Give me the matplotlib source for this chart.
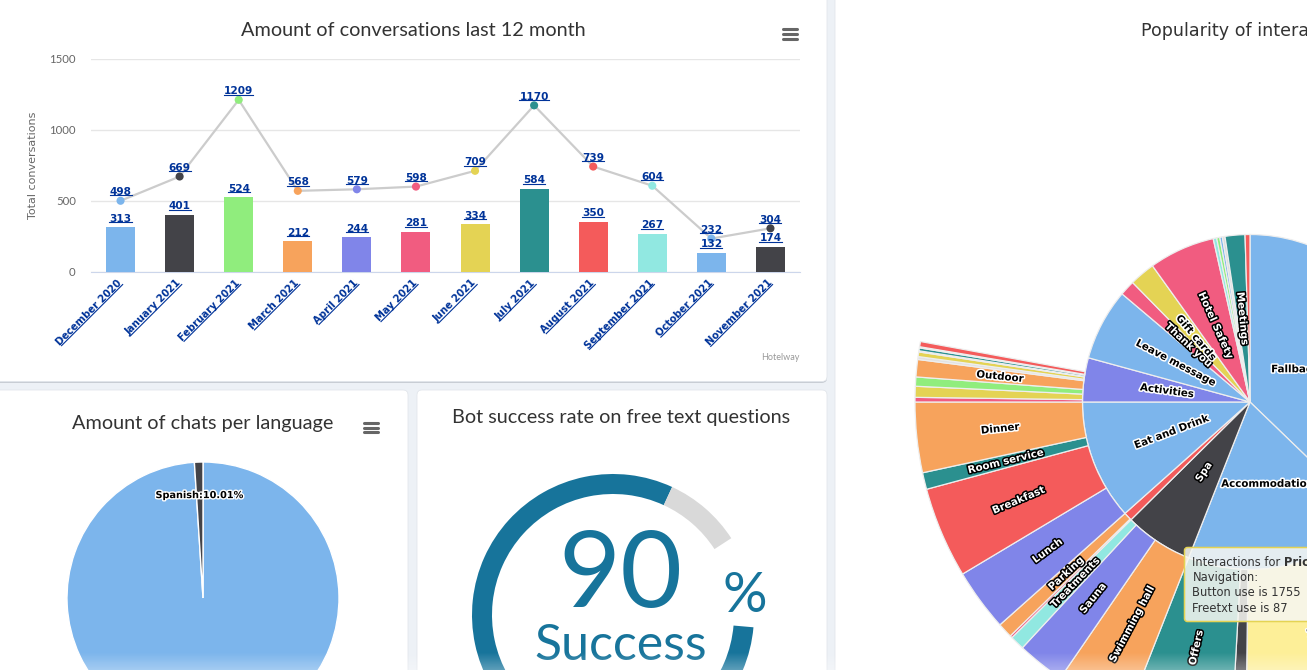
import matplotlib
matplotlib.use('Agg')
import matplotlib.pyplot as plt
import numpy as np
from matplotlib.patches import FancyBboxPatch
from matplotlib.lines import Line2D
from matplotlib.transforms import IdentityTransform
import matplotlib.patheffects as pe

W, H, DPI = 1307, 670, 100

# ---------------- data ----------------
months = ['December 2020', 'January 2021', 'February 2021', 'March 2021', 'April 2021',
          'May 2021', 'June 2021', 'July 2021', 'August 2021', 'September 2021',
          'October 2021', 'November 2021']
bar_values = [313, 401, 524, 212, 244, 281, 334, 584, 350, 267, 132, 174]
line_values = [498, 669, 1209, 568, 579, 598, 709, 1170, 739, 604, 232, 304]
y_ticks = [0, 500, 1000, 1500]
hc_colors = ['#7cb5ec', '#434348', '#90ed7d', '#f7a35c', '#8085e9',
             '#f15c80', '#e4d354', '#2b908f', '#f45b5b', '#91e8e1']

languages = ['English', 'Spanish']
language_share = [98.99, 1.01]
language_label = 'Spanish:10.01%'

success_rate = 90

inner_names = ['Fallback', 'Accommodation', 'Spa', '', 'Eat and Drink', 'Activities',
               'Leave message', 'Thank you', 'Gift cards', 'Hotel Safety', '', '', '', '',
               'Meetings', '']
inner_values = [8040, 4050, 1428, 180, 2502, 918, 1494, 318, 534, 1374, 72, 66, 54, 54, 414, 102]
inner_colors = ['#7cb5ec', '#7cb5ec', '#434348', '#f45b5b', '#7cb5ec', '#8085e9', '#7cb5ec',
                '#f15c80', '#e4d354', '#f15c80', '#91e8e1', '#90ed7d', '#7cb5ec', '#dcdcdc',
                '#2b908f', '#f45b5b']

prices_button, prices_freetext = 1755, 87
outer_parent = [1, 1, 1, 1, 2, 2, 2, 3, 3, 4, 4, 4, 4, 5, 5, 5, 5, 5, 5, 5, 5, 5, 5]
outer_names = ['', 'Prices', '', 'Offers', 'Swimming hall', 'Sauna', 'Treatments', '', 'Parking',
               'Lunch', 'Breakfast', 'Room service', 'Dinner', '', '', '', 'Outdoor', '', '', '',
               '', '', '']
outer_values = [960, prices_button + prices_freetext, 150, 1098, 780, 498, 150, 24, 156,
                648, 948, 174, 732, 48, 114, 96, 180, 30, 48, 12, 30, 12, 54]
outer_colors = ['#f15c80', '#fdef98', '#434348', '#2b908f', '#f7a35c', '#8085e9', '#91e8e1',
                '#f15c80', '#f7a35c', '#8085e9', '#f45b5b', '#2b908f', '#f7a35c', '#f15c80',
                '#e4d354', '#90ed7d', '#f7a35c', '#e2e2e2', '#e4d354', '#e2e2e2', '#2b908f',
                '#e2e2e2', '#f45b5b']
light_text = {'Spa', 'Hotel Safety', 'Thank you', 'Meetings', 'Room service', 'Breakfast',
              'Lunch', 'Parking', 'Treatments', 'Sauna', 'Swimming hall', 'Offers'}

# ---------------- helpers ----------------
BLUE_LINK = '#003399'
TITLE_FONT = 'Lato'


def px_rect(x0, y0, x1, y1):
    return [x0 / W, 1 - y1 / H, (x1 - x0) / W, (y1 - y0) / H]


fig = plt.figure(figsize=(W / DPI, H / DPI), dpi=DPI)
fig.patch.set_facecolor('#edf1f6')

bg = fig.add_axes([0, 0, 1, 1], zorder=0)
bg.set_xlim(0, W)
bg.set_ylim(H, 0)
bg.axis('off')


def card(x0, y0, x1, y1):
    bg.add_patch(FancyBboxPatch((x0, y0 + 1.2), x1 - x0, y1 - y0,
                                boxstyle='round,pad=0,rounding_size=5',
                                fc='#b9bec6', ec='none'))
    bg.add_patch(FancyBboxPatch((x0, y0), x1 - x0, y1 - y0,
                                boxstyle='round,pad=0,rounding_size=5',
                                fc='white', ec='#e3e7ec', lw=0.6))


card(-20, -20, 827, 381.5)
card(-20, 390, 408, 720)
card(417, 390, 827, 720)
card(835, -20, 1330, 720)


def hamburger(xc, yc):
    for dy in (-4.7, 0, 4.7):
        bg.plot([xc - 7, xc + 7], [yc + dy, yc + dy], color='#666666', lw=2.2,
                solid_capstyle='round')


hamburger(790, 34)
hamburger(371, 427.5)

bg.text(413, 31, 'Amount of conversations last 12 month', ha='center', va='center',
        fontsize=14.3, color='#333333', family=TITLE_FONT)
bg.text(203, 424, 'Amount of chats per language', ha='center', va='center',
        fontsize=14.3, color='#333333', family=TITLE_FONT)
bg.text(621, 417, 'Bot success rate on free text questions', ha='center', va='center',
        fontsize=14.3, color='#333333', family=TITLE_FONT)
bg.text(1141, 31, 'Popularity of interactions', ha='left', va='center',
        fontsize=12.6, color='#333333', family='DejaVu Sans')
bg.text(800, 358, 'Hotelway', ha='right', va='center', fontsize=6.5, color='#999999',
        family=TITLE_FONT)

underline_plain = []
underline_rot = []

# ---------------- column + line chart ----------------
ax1 = fig.add_axes(px_rect(91, 58.5, 800, 271.5), zorder=2)
ax1.patch.set_alpha(0)
x = np.arange(len(months))
month_colors = [hc_colors[i % len(hc_colors)] for i in range(len(months))]
ax1.bar(x, bar_values, width=0.49, color=month_colors, zorder=2)
ax1.plot(x, line_values, color='#cccccc', lw=1.6, zorder=3)
ax1.scatter(x, line_values, s=34, c=month_colors, zorder=4, linewidths=0)
ax1.set_xlim(-0.5, len(months) - 0.5)
ax1.set_ylim(0, 1500)
ax1.set_yticks(y_ticks)
ax1.yaxis.grid(True, color='#e6e6e6', lw=1)
ax1.set_axisbelow(True)
for s in ('top', 'right', 'left'):
    ax1.spines[s].set_visible(False)
ax1.spines['bottom'].set_color('#ccd6eb')
ax1.spines['bottom'].set_zorder(1)
ax1.tick_params(axis='y', length=0, pad=11, labelcolor='#666666', labelsize=8.2)
for lab in ax1.get_yticklabels():
    lab.set_family(TITLE_FONT)
ax1.set_xticks(x)
ax1.set_xticklabels(months, rotation=45, ha='right', va='center', rotation_mode='anchor',
                    color=BLUE_LINK, fontweight='bold', fontsize=7.2, family='DejaVu Sans')
ax1.tick_params(axis='x', length=0, pad=7)
ax1.set_ylabel('Total conversations', color='#666666', fontsize=8, family='DejaVu Sans')
ax1.yaxis.set_label_coords(-(91 - 38) / 709, 0.5)

for xi, v in zip(x, bar_values):
    t = ax1.annotate(str(v), (xi, v), xytext=(0, 2.4), textcoords='offset points',
                     ha='center', va='bottom', color=BLUE_LINK, fontsize=7.6,
                     fontweight='bold', zorder=6)
    underline_plain.append(t)
for xi, v in zip(x, line_values):
    t = ax1.annotate(str(v), (xi, v), xytext=(0, 2.6), textcoords='offset points',
                     ha='center', va='bottom', color=BLUE_LINK, fontsize=7.6,
                     fontweight='bold', zorder=6)
    underline_plain.append(t)
underline_rot.extend(ax1.get_xticklabels())

# ---------------- language pie ----------------
ax2 = fig.add_axes(px_rect(67, 462, 339, 734), zorder=2)
w2, _ = ax2.pie(language_share, colors=['#7cb5ec', '#434348'], startangle=90,
                counterclock=False, wedgeprops=dict(edgecolor='white', linewidth=1))
ax2.set_xlim(-1, 1)
ax2.set_ylim(-1, 1)
mid = np.deg2rad((w2[1].theta1 + w2[1].theta2) / 2)
ax2.text(0.757 * np.cos(mid), 0.757 * np.sin(mid), language_label, ha='center', va='center',
         fontsize=7.0, fontweight='bold', color='black',
         path_effects=[pe.withStroke(linewidth=2, foreground='white')])

# ---------------- gauge ----------------
GAUGE_BLUE = '#17749b'
ax3 = fig.add_axes(px_rect(472, 474, 754, 756), zorder=2)
gauge_span = 322.0
gap = 100 * (360 - gauge_span) / gauge_span
ax3.pie([success_rate, 100 - success_rate, gap], colors=[GAUGE_BLUE, '#d9d9d9', 'none'],
        startangle=-5, counterclock=False, radius=1,
        wedgeprops=dict(width=20 / 141, edgecolor='none'))
ax3.set_xlim(-1, 1)
ax3.set_ylim(-1, 1)
bg.text(621, 607, f'{success_rate}', ha='center', va='baseline', fontsize=77,
        color=GAUGE_BLUE, family=TITLE_FONT, zorder=5)
bg.text(745, 612, '%', ha='center', va='baseline', fontsize=40,
        color=GAUGE_BLUE, family=TITLE_FONT, zorder=5)
bg.text(621, 660, 'Success', ha='center', va='baseline', fontsize=36,
        color=GAUGE_BLUE, family=TITLE_FONT, zorder=5)

# ---------------- sunburst ----------------
ax4 = fig.add_axes(px_rect(915, 67, 1585, 737), zorder=2)
w_in, _ = ax4.pie(inner_values, radius=0.5, colors=inner_colors, startangle=90,
                  counterclock=False, wedgeprops=dict(edgecolor='#eeeeee', linewidth=0.9))
ring_vals, ring_cols, ring_names = [], [], []
for i, pv in enumerate(inner_values):
    kids = [k for k, p in enumerate(outer_parent) if p == i]
    for k in kids:
        ring_vals.append(outer_values[k])
        ring_cols.append(outer_colors[k])
        ring_names.append(outer_names[k])
    rest = pv - sum(outer_values[k] for k in kids)
    if rest > 0:
        ring_vals.append(rest)
        ring_cols.append('none')
        ring_names.append(None)
w_out, _ = ax4.pie(ring_vals, radius=1.0, colors=ring_cols, startangle=90,
                   counterclock=False,
                   wedgeprops=dict(width=0.5, edgecolor='#eeeeee', linewidth=0.9))
for wd, nm in zip(w_out, ring_names):
    if nm is None:
        wd.set_edgecolor('none')
        wd.set_facecolor('none')
ax4.set_xlim(-1, 1)
ax4.set_ylim(-1, 1)


def sb_label(wd, name, r, horizontal=False, ha='center', dx=0.0):
    m = (wd.theta1 + wd.theta2) / 2
    rad = np.deg2rad(m)
    rot = 0
    if not horizontal:
        rot = m % 360
        if 90 < rot < 270:
            rot -= 180
    dark = name in light_text
    ax4.text(r * np.cos(rad) + dx, r * np.sin(rad), name, rotation=rot,
             rotation_mode='anchor', ha=ha, va='center', fontsize=7.4, fontweight='bold',
             color='white' if dark else 'black', family='DejaVu Sans', zorder=5,
             path_effects=[pe.withStroke(linewidth=2.2,
                                         foreground='black' if dark else 'white')])


for wd, nm in zip(w_in, inner_names):
    if not nm:
        continue
    if nm == 'Fallback':
        sb_label(wd, nm, 0.25, horizontal=True, ha='left', dx=-0.167)
    elif nm == 'Accommodation':
        sb_label(wd, nm, 0.25, horizontal=True)
    else:
        sb_label(wd, nm, 0.25)
for wd, nm in zip(w_out, ring_names):
    if nm:
        sb_label(wd, nm, 0.75)

# ---------------- overlay: tooltip + bottom fade ----------------
ov = fig.add_axes([0, 0, 1, 1], zorder=10)
ov.set_xlim(0, W)
ov.set_ylim(H, 0)
ov.axis('off')
ov.patch.set_alpha(0)
ov.add_patch(FancyBboxPatch((1184.5, 547.5), 160, 74, boxstyle='round,pad=0,rounding_size=3',
                            fc='#f7f7f2', alpha=0.86, ec='none'))
ov.add_patch(FancyBboxPatch((1184.5, 547.5), 160, 74, boxstyle='round,pad=0,rounding_size=3',
                            fc='none', ec='#e4d354', lw=1.1))
TT = 8.3
t1 = ov.text(1192.5, 566.5, 'Interactions for ', ha='left', va='baseline', fontsize=TT,
             color='#333333', family='DejaVu Sans')
ov.annotate('Prices', xy=(1, 0), xycoords=t1, ha='left', va='bottom', fontsize=TT,
            fontweight='bold', color='#333333', family='DejaVu Sans')
ov.text(1192.5, 581.5, 'Navigation:', ha='left', va='baseline', fontsize=TT, color='#333333',
        family='DejaVu Sans')
ov.text(1192.5, 596.5, f'Button use is {prices_button}', ha='left', va='baseline',
        fontsize=TT, color='#333333', family='DejaVu Sans')
ov.text(1192.5, 611.5, f'Freetxt use is {prices_freetext}', ha='left', va='baseline',
        fontsize=TT, color='#333333', family='DejaVu Sans')
grad = np.ones((20, 2, 4))
grad[:, :, 3] = np.linspace(0, 0.3, 20)[:, None]
ov.imshow(grad, extent=(0, W, 670, 652), aspect='auto', zorder=20, interpolation='bilinear')
ov.set_xlim(0, W)
ov.set_ylim(H, 0)

# ---------------- underlines for link-styled labels ----------------
fig.canvas.draw()
ren = fig.canvas.get_renderer()
for t in underline_plain:
    bb = t.get_window_extent(ren)
    y = bb.y0 + 0.17 * bb.height
    fig.add_artist(Line2D([bb.x0, bb.x1], [y, y], transform=IdentityTransform(),
                          color=BLUE_LINK, lw=0.8, zorder=30))
for t in underline_rot:
    bb = t.get_window_extent(ren)
    h = t.get_fontsize() * DPI / 72 * 1.164
    c = np.sqrt(0.5)
    sx, sy = bb.x0 + c * h, bb.y0
    ex, ey = bb.x1, bb.y1 - c * h
    off = 0.17 * h
    sx, ex = sx - c * off, ex - c * off
    sy, ey = sy + c * off, ey + c * off
    fig.add_artist(Line2D([sx, ex], [sy, ey], transform=IdentityTransform(),
                          color=BLUE_LINK, lw=0.8, zorder=30))

fig.savefig('out.png', dpi=DPI, facecolor=fig.get_facecolor())
